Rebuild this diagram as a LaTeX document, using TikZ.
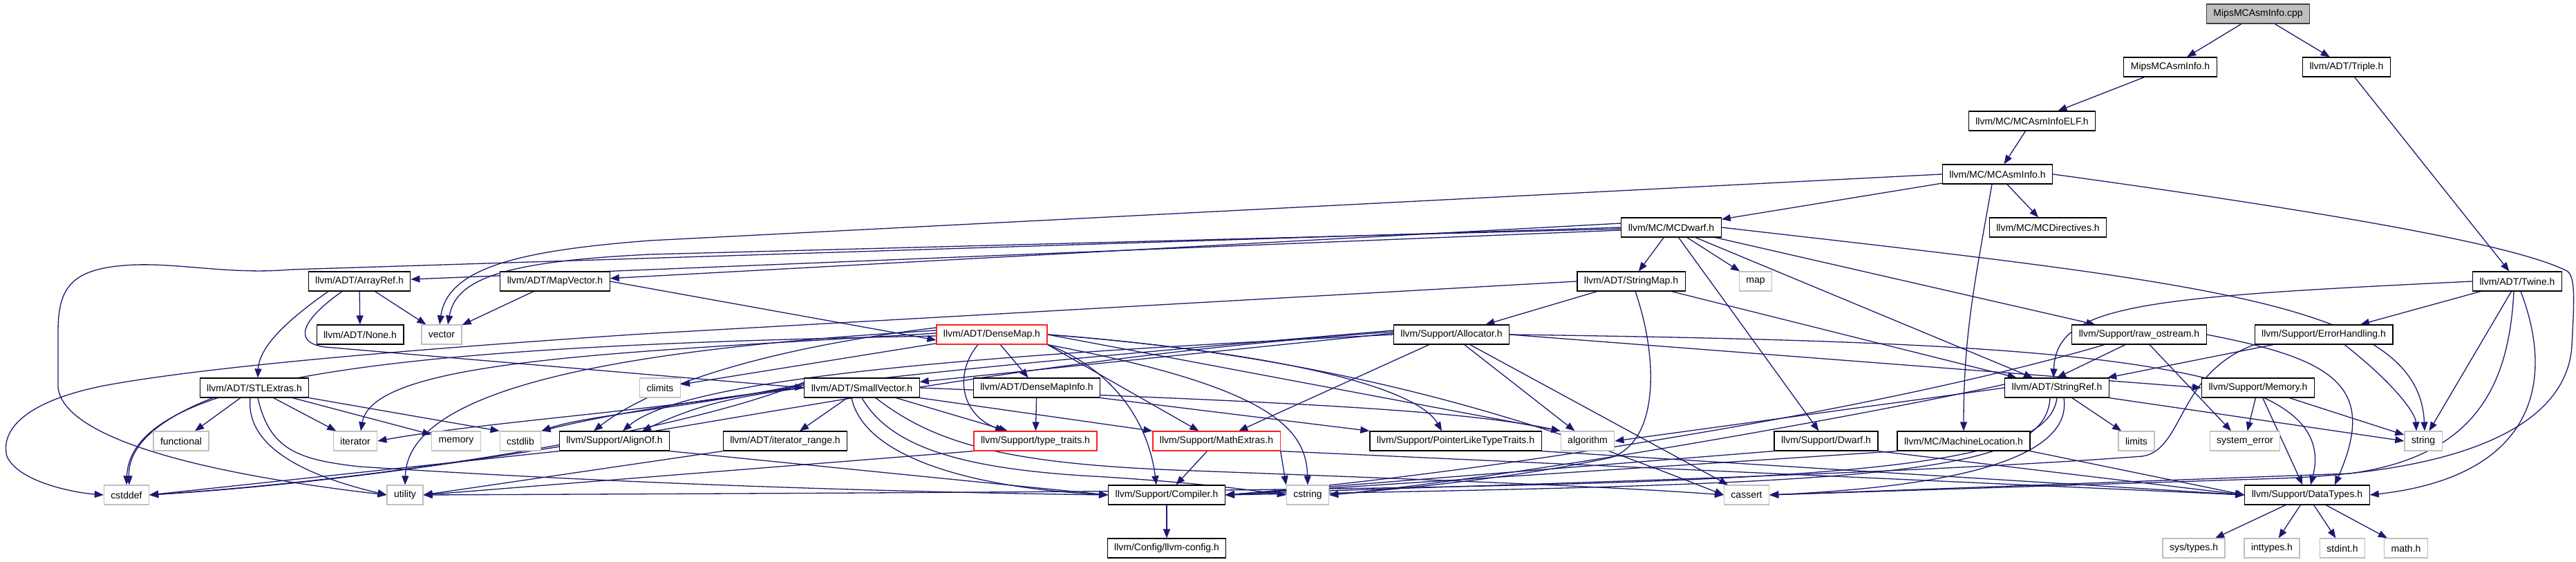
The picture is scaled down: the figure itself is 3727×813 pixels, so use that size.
\documentclass[tikz,border=0pt]{standalone}
\usepackage{fontspec}
\setmainfont{Liberation Sans}
\usetikzlibrary{arrows.meta}
\definecolor{navy}{HTML}{191970}
\definecolor{lgray}{HTML}{BFBFBF}
\definecolor{tred}{HTML}{FF2020}
\newcommand\dfs{\fontsize{14}{16}\selectfont}
\pgfdeclarelayer{edges}
\pgfsetlayers{edges,main}
\tikzset{
 hdr/.style={draw=black, fill=white, line width=1.2pt, minimum height=28pt, inner xsep=10pt, inner ysep=0pt, font=\dfs},
 sys/.style={hdr, draw=lgray},
 trunc/.style={hdr, draw=tred},
 topn/.style={hdr, fill=lgray, draw=black!75},
 e/.style={draw=navy, line width=1.3pt, -{Triangle[length=13pt,width=10pt]}},
}
\begin{document}
\begin{tikzpicture}[x=1pt,y=-1pt]
\useasboundingbox (0,0) rectangle (3727,813);
% nodes
\node[topn] (cpp) at (3267,20) {MipsMCAsmInfo.cpp};
\node[hdr] (mipsh) at (3140,97) {MipsMCAsmInfo.h};
\node[hdr] (triple) at (3395,97) {llvm/ADT/Triple.h};
\node[hdr] (elf) at (2940,175) {llvm/MC/MCAsmInfoELF.h};
\node[hdr] (asminfo) at (2890,252) {llvm/MC/MCAsmInfo.h};
\node[hdr] (mcdwarf) at (2418,329) {llvm/MC/MCDwarf.h};
\node[hdr] (mcdir) at (2963,329) {llvm/MC/MCDirectives.h};
\node[hdr] (arrayref) at (520,407) {llvm/ADT/ArrayRef.h};
\node[hdr] (mapvector) at (803,407) {llvm/ADT/MapVector.h};
\node[hdr] (stringmap) at (2360,407) {llvm/ADT/StringMap.h};
\node[sys] (map) at (2540,407) {map};
\node[hdr] (twine) at (3642,407) {llvm/ADT/Twine.h};
\node[hdr] (none) at (521,484) {llvm/ADT/None.h};
\node[sys] (vector) at (639,484) {vector};
\node[trunc] (densemap) at (1435,484) {llvm/ADT/DenseMap.h};
\node[hdr] (allocator) at (2100,484) {llvm/Support/Allocator.h};
\node[hdr] (rawos) at (3095,484) {llvm/Support/raw\_ostream.h};
\node[hdr] (errh) at (3362,484) {llvm/Support/ErrorHandling.h};
\node[hdr] (stlextras) at (368,561) {llvm/ADT/STLExtras.h};
\node[sys] (climits) at (955,561) {climits};
\node[hdr] (smallvec) at (1247,561) {llvm/ADT/SmallVector.h};
\node[hdr] (dmi) at (1500,561) {llvm/ADT/DenseMapInfo.h};
\node[hdr] (stringref) at (2976,561) {llvm/ADT/StringRef.h};
\node[hdr] (memoryh) at (3267,561) {llvm/Support/Memory.h};
\node[sys] (functional) at (262,638) {functional};
\node[sys] (iterator) at (514,638) {iterator};
\node[sys] (memory) at (660,638) {memory};
\node[sys] (cstdlib) at (753,638) {cstdlib};
\node[hdr] (alignof) at (889,638) {llvm/Support/AlignOf.h};
\node[hdr] (itrange) at (1136,638) {llvm/ADT/iterator\_range.h};
\node[trunc] (typetraits) at (1498,638) {llvm/Support/type\_traits.h};
\node[trunc] (mathextras) at (1760,638) {llvm/Support/MathExtras.h};
\node[hdr] (pltt) at (2106,638) {llvm/Support/PointerLikeTypeTraits.h};
\node[sys] (algorithm) at (2297,638) {algorithm};
\node[hdr] (dwarf) at (2642,638) {llvm/Support/Dwarf.h};
\node[hdr] (machloc) at (2841,638) {llvm/MC/MachineLocation.h};
\node[sys] (limits) at (3091,638) {limits};
\node[sys] (syserr) at (3248,638) {system\_error};
\node[sys] (string) at (3506,638) {string};
\node[sys] (cstddef) at (183,716) {cstddef};
\node[sys] (utility) at (586,716) {utility};
\node[hdr] (compiler) at (1688,716) {llvm/Support/Compiler.h};
\node[sys] (cstring) at (1892,716) {cstring};
\node[sys] (cassert) at (2527,716) {cassert};
\node[hdr] (datatypes) at (3338,716) {llvm/Support/DataTypes.h};
\node[hdr] (llvmconfig) at (1688,793) {llvm/Config/llvm-config.h};
\node[sys] (systypes) at (3174,793) {sys/types.h};
\node[sys] (inttypes) at (3287,793) {inttypes.h};
\node[sys] (stdint) at (3389,793) {stdint.h};
\node[sys] (math) at (3481,793) {math.h};
\begin{pgfonlayer}{edges}
% top part
\draw[e] (cpp) -- (mipsh);
\draw[e] (cpp) -- (triple);
\draw[e] (mipsh) -- (elf);
\draw[e] (elf) -- (asminfo);
\draw[e] (asminfo) -- (mcdwarf);
\draw[e] (asminfo) -- (mcdir);
\draw[e] ([xshift=-8pt]asminfo.south) to[out=-100,in=90] (machloc.north);
\draw[e] (asminfo.west) -- (940,348) .. controls (760,362) and (648,385) .. ([xshift=-3pt]vector.north);
\draw[e] (asminfo.east) .. controls (3450,318) and (3650,360) .. (3714,392) .. controls (3727,400) and (3724,440) .. (3721,500) .. controls (3715,600) and (3600,680) .. (3300,692) -- (cassert.east);
\draw[e] (triple) -- (twine);
% MCDwarf
\draw[e] ([yshift=-4pt]mcdwarf.west) -- (arrayref);
\draw[e] ([yshift=6pt]mcdwarf.west) -- (mapvector);
\draw[e] ([yshift=-2pt]mcdwarf.west) -- (940,368) .. controls (740,378) and (660,400) .. ([xshift=9pt]vector.north);
\draw[e] (mcdwarf.west) -- (420,390) .. controls (330,398) and (250,378) .. (180,384) .. controls (100,390) and (84,420) .. (84,480) -- (84,560) .. controls (90,625) and (250,680) .. (utility.west);
\draw[e] (mcdwarf) -- (stringmap);
\draw[e] (mcdwarf) -- (map);
\draw[e] (mcdwarf) -- (dwarf);
\draw[e] (mcdwarf) -- (stringref);
\draw[e] (mcdwarf) -- (rawos);
\draw[e] (mcdwarf.east) .. controls (3200,410) and (3500,440) .. ([xshift=2pt]string.north);
% ArrayRef, MapVector
\draw[e] (arrayref) -- (none);
\draw[e] (arrayref) -- (vector);
\draw[e] ([xshift=-45pt]arrayref.south) .. controls (420,460) and (375,500) .. ([xshift=5pt]stlextras.north);
\draw[e] ([xshift=-25pt]arrayref.south) .. controls (440,460) and (420,495) .. (470,502) -- (smallvec.west);
\draw[e] (mapvector) -- (vector);
\draw[e] (mapvector.east) -- ([yshift=-8pt]densemap.west);
% StringMap
\draw[e] (stringmap) -- (allocator);
\draw[e] (stringmap) -- (stringref);
\draw[e] ([xshift=6pt]stringmap.south) .. controls (2400,520) and (2400,640) .. (2330,662) .. controls (2200,690) and (2050,705) .. (cstring.east);
\draw[e] (stringmap.west) -- (930,483) .. controls (600,505) and (300,530) .. (150,558) .. controls (40,580) and (0,620) .. (10,660) .. controls (25,695) and (100,712) .. (cstddef.west);
% Twine
\draw[e] (twine) -- (errh);
\draw[e] (twine) -- (string);
\draw[e] (twine.west) .. controls (3100,430) and (2975,440) .. ([xshift=-5pt]stringref.north);
\draw[e] ([xshift=-5pt]twine.south) .. controls (3630,560) and (3580,660) .. (3400,685) -- (cassert.east);
\draw[e] ([xshift=5pt]twine.south) .. controls (3700,560) and (3660,690) .. (datatypes.east);
% Allocator
\draw[e] ([yshift=2pt]allocator.west) -- (smallvec);
\draw[e] (allocator.west) .. controls (1500,510) and (1000,540) .. ([xshift=12pt]alignof.north);
\draw[e] ([yshift=4pt]allocator.west) .. controls (1300,530) and (800,680) .. (cstddef.east);
\draw[e] ([yshift=6pt]allocator.west) .. controls (1400,530) and (1000,570) .. (cstdlib.north east);
\draw[e] (allocator) -- (mathextras);
\draw[e] (allocator) -- (algorithm);
\draw[e] (allocator) -- (cassert);
\draw[e] (allocator.east) -- (memoryh.west);
\draw[e] (allocator.east) .. controls (3000,495) and (3390,520) .. ([xshift=5pt]datatypes.north);
% DenseMap
\draw[e] (densemap) -- (climits);
\draw[e] (densemap) -- (dmi);
\draw[e] ([xshift=-20pt]densemap.south) .. controls (1380,540) and (1390,600) .. ([xshift=-45pt]typetraits.north);
\draw[e] (densemap.south east) .. controls (1600,530) and (1660,600) .. ([xshift=-15pt]compiler.north);
\draw[e] (densemap.south east) -- (mathextras);
\draw[e] (densemap.east) .. controls (1850,510) and (2050,560) .. ([xshift=-20pt]pltt.north);
\draw[e] (densemap.east) -- (algorithm.north west);
\draw[e] (densemap.east) .. controls (2000,520) and (2300,640) .. (cassert.west);
\draw[e] (densemap.south east) .. controls (1840,560) and (1890,620) .. (cstring.north);
\draw[e] ([yshift=2pt]densemap.west) .. controls (900,510) and (540,520) .. ([xshift=8pt]iterator.north);
\draw[e] ([yshift=-2pt]densemap.west) .. controls (600,500) and (190,540) .. (cstddef.north);
\draw[e] ([yshift=6pt]densemap.west) .. controls (900,505) and (590,560) .. (utility.north);
\draw[e] ([yshift=10pt]densemap.west) .. controls (1100,505) and (940,560) .. ([xshift=-30pt]alignof.north);
% SmallVector
\draw[e] (smallvec) -- (itrange);
\draw[e] (smallvec.west) .. controls (1050,575) and (1000,590) .. ([xshift=40pt]alignof.north);
\draw[e] (smallvec) -- ([xshift=-40pt]typetraits.north);
\draw[e] (smallvec.south east) -- (mathextras.north west);
\draw[e] ([yshift=4pt]smallvec.west) .. controls (1000,590) and (700,610) .. (iterator.east);
\draw[e] ([yshift=6pt]smallvec.west) .. controls (1000,590) and (850,600) .. (cstdlib.north east);
\draw[e] ([yshift=8pt]smallvec.west) .. controls (1000,620) and (600,690) .. (cstddef.east);
\draw[e] ([xshift=-15pt]smallvec.south) .. controls (1250,660) and (1400,705) .. (compiler.west);
\draw[e] ([xshift=0pt]smallvec.south) .. controls (1290,650) and (1400,680) .. (1600,690) .. controls (1750,700) and (1800,708) .. (cstring.west);
\draw[e] ([xshift=20pt]smallvec.south) .. controls (1350,640) and (1450,670) .. (1700,680) .. controls (2100,695) and (2350,705) .. (cassert.west);
\draw[e] (smallvec.east) .. controls (1800,580) and (2100,590) .. (algorithm.north west);
% DenseMapInfo
\draw[e] (dmi) -- (typetraits);
\draw[e] (dmi.south east) -- (pltt.north west);
% STLExtras
\draw[e] (stlextras) -- (functional);
\draw[e] (stlextras) -- (iterator);
\draw[e] (stlextras) -- (memory);
\draw[e] (stlextras.south east) -- (cstdlib.north west);
\draw[e] ([xshift=-60pt]stlextras.south) .. controls (220,610) and (185,650) .. ([xshift=4pt]cstddef.north);
\draw[e] ([xshift=-6pt]stlextras.south) .. controls (355,650) and (450,690) .. (utility.west);
\draw[e] ([xshift=5pt]stlextras.south) .. controls (390,650) and (430,665) .. (520,675) .. controls (900,700) and (1300,712) .. (compiler.west);
% lower headers
\draw[e] (alignof.south west) -- (cstddef.east);
\draw[e] (alignof.south east) -- (compiler.west);
\draw[e] (itrange.south west) -- (utility.east);
\draw[e] (typetraits.south west) -- (utility.east);
\draw[e] (mathextras) -- (compiler);
\draw[e] (mathextras.south east) -- (cstring.north west);
\draw[e] (mathextras.south east) -- (datatypes.west);
\draw[e] (pltt.south east) -- (datatypes.west);
\draw[e] (dwarf.south west) -- (compiler.east);
\draw[e] (dwarf.south east) -- (datatypes.west);
\draw[e] (machloc.south west) -- (compiler.east);
\draw[e] (machloc.south east) -- (datatypes.west);
% StringRef
\draw[e] (stringref) -- (limits);
\draw[e] (stringref.south east) -- (string.west);
\draw[e] (stringref.west) -- (algorithm.east);
\draw[e] ([xshift=-10pt]stringref.south) .. controls (2960,690) and (2700,700) .. (compiler.east);
\draw[e] ([xshift=10pt]stringref.south) .. controls (3000,670) and (2800,705) .. (cassert.east);
\draw[e] ([yshift=5pt]stringref.west) .. controls (2700,600) and (2200,690) .. (cstring.east);
\draw[e] (stringref.south) .. controls (2960,705) and (2500,708) .. (utility.east);
% raw_ostream
\draw[e] ([xshift=-20pt]rawos.south) -- (stringref.north);
\draw[e] ([xshift=15pt]rawos.south) -- ([xshift=-20pt]syserr.north);
\draw[e] (rawos.east) .. controls (3380,520) and (3440,560) .. ([xshift=40pt]datatypes.north);
\draw[e] ([xshift=-50pt]rawos.south) .. controls (2700,600) and (2100,690) .. (compiler.east);
% ErrorHandling
\draw[e] (errh) -- (stringref);
\draw[e] ([xshift=30pt]errh.south) .. controls (3470,560) and (3495,600) .. ([xshift=-10pt]string.north);
\draw[e] (errh.south west) .. controls (3150,540) and (3160,650) .. (3100,660) .. controls (2700,690) and (2000,705) .. (compiler.east);
% Memory
\draw[e] (memoryh) -- (syserr);
\draw[e] (memoryh) -- (datatypes);
\draw[e] (memoryh) -- (string);
% bottom
\draw[e] (compiler) -- (llvmconfig);
\draw[e] (datatypes) -- (systypes);
\draw[e] (datatypes) -- (inttypes);
\draw[e] (datatypes) -- (stdint);
\draw[e] (datatypes) -- (math);
\end{pgfonlayer}
\end{tikzpicture}
\end{document}
